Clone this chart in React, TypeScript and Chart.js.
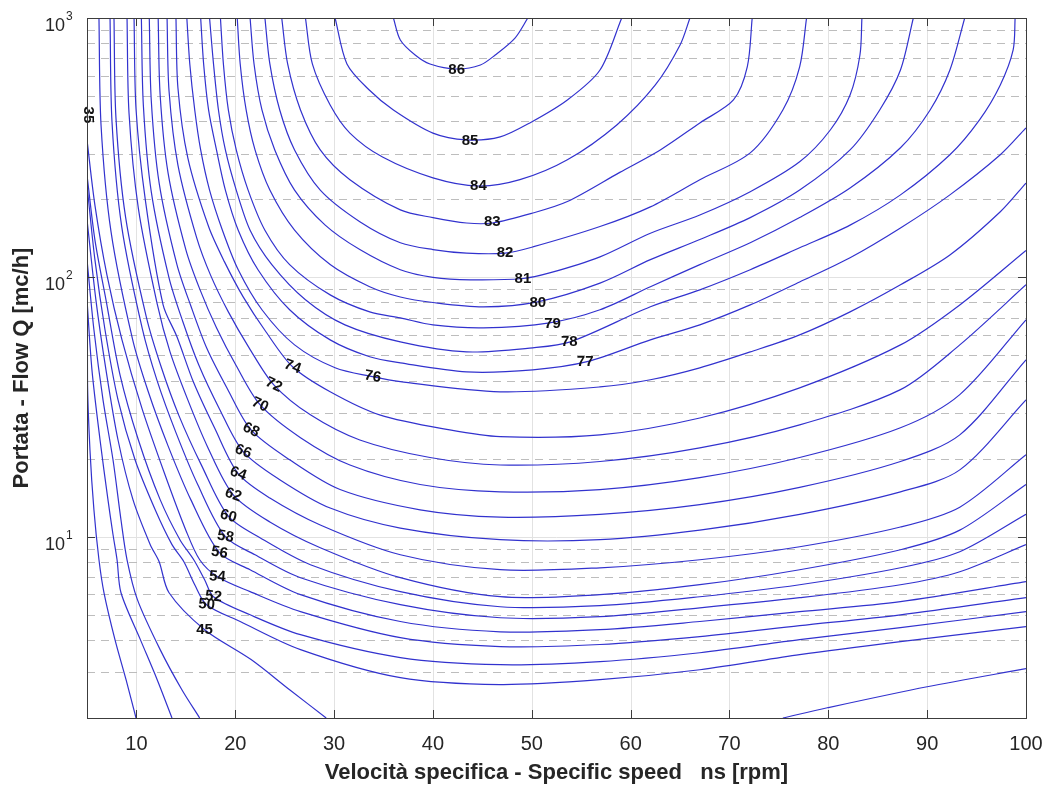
import React, { useEffect, useRef } from 'react';
import { Chart, registerables } from 'chart.js';

Chart.register(...registerables);

// ---- axis data ----
const xTickValues = [10, 20, 30, 40, 50, 60, 70, 80, 90, 100];
const yDecades = [10, 100, 1000];
const yDecadeExp = ['1', '2', '3'];
const yMinor = [2, 3, 4, 5, 6, 7, 8, 9, 20, 30, 40, 50, 60, 70, 80, 90, 200, 300, 400, 500, 600, 700, 800, 900];
const xTitle = 'Velocità specifica - Specific speed   ns [rpm]';
const yTitle = 'Portata - Flow Q [mc/h]';

// ---- contour lines: [ns, Q] ----
const c35 = [[5.04,1000],[5.04,260],[5.05,40.3],[5.3,21.6],[5.7,12.7],[6.21,8.15],[6.72,6.08],[7.83,4.01],[8.95,2.81],[9.96,2.0]];
const c40 = [[5.0,81.9],[5.5,44.0],[6.32,23.6],[7.12,13.9],[7.63,10.2],[8.04,8.15],[8.44,6.08],[10.4,4.01],[12.1,2.81],[13.6,2.0]];
const c42 = [[5.0,117],[5.7,62.8],[6.62,33.7],[7.63,19.8],[8.44,11.6],[9.05,8.15],[10.1,5.72],[12.4,3.67],[14.6,2.57],[16.4,2.0]];
const c45a = [[5.0,167],[5.9,81.9],[6.92,44.0],[8.14,23.6],[9.65,13.9],[11.4,9.32],[12.3,8.01],[13.3,6.08],[16.9,4.38],[21.6,3.36],[25.5,2.57],[29.2,2.0]];
const c45b = [[75.4,2.0],[79.9,2.19],[90.0,2.64],[100,3.10]];
const c50 = [[5.0,227],[5.8,117],[6.82,62.8],[8.14,33.7],[9.86,19.8],[11.9,12.7],[13.6,9.32],[14.8,8.01],[15.9,6.53],[17.1,5.47],[20.5,4.71],[26.6,3.67],[36.7,2.86],[46.8,2.69],[56.9,2.81],[67.0,3.07],[77.1,3.51],[87.3,3.94],[100,4.50]];
const c52 = [[5.0,248],[5.8,139.5],[6.92,81.9],[8.34,42.1],[10.2,23.6],[12.4,13.9],[14.4,9.74],[15.8,8.15],[16.9,6.83],[17.8,5.87],[21.5,5.00],[26.6,4.19],[36.7,3.42],[46.8,3.21],[56.9,3.30],[67.0,3.57],[77.1,4.01],[87.3,4.46],[100,5.14]];
const c54 = [[5.0,339],[5.8,190],[7.02,102],[8.54,57.4],[10.6,30.9],[12.9,17.3],[15.0,10.6],[16.4,8.15],[18.2,7.01],[21.5,6.14],[26.6,5.14],[36.7,4.08],[46.8,3.77],[56.9,3.84],[67.0,4.12],[77.1,4.54],[87.3,5.00],[100,5.82]];
const c56 = [[6.21,1000],[6.42,387],[7.43,150],[9.6,57.9],[11.2,36.2],[13.2,22.4],[15.5,13.9],[18.4,8.68],[21.5,7.46],[26.6,5.98],[36.7,4.71],[46.8,4.30],[56.9,4.38],[67.0,4.71],[77.1,5.14],[87.3,5.62],[100,6.71]];
const c58 = [[7.33,1000],[7.53,397],[8.5,158],[10.6,63.3],[12.1,39.9],[14.0,25.2],[16.2,15.9],[19.0,10.0],[22.0,8.52],[26.6,6.95],[36.7,5.47],[46.8,4.87],[56.9,4.92],[67.0,5.32],[77.1,5.82],[87.3,6.53],[93.3,7.33],[100,9.32]];
const c60 = [[7.73,1000],[7.93,412],[8.9,171],[11.0,70.4],[12.5,45.2],[14.3,29.3],[16.6,18.8],[19.3,12.0],[22.5,9.91],[27.6,7.80],[36.7,6.14],[46.8,5.37],[56.9,5.42],[67.0,5.87],[77.1,6.53],[87.3,7.59],[93.3,8.75],[100,12.2]];
const c62 = [[9.05,1000],[9.25,430],[10.2,184],[12.1,79.1],[13.4,51.6],[15.2,33.7],[17.2,22.2],[19.8,14.5],[23.5,11.4],[28.6,9.07],[36.7,6.95],[46.8,5.87],[56.9,5.98],[67.0,6.53],[77.1,7.46],[87.3,8.91],[93.3,10.6],[100,15.9]];
const c64 = [[9.76,1000],[9.96,446],[10.9,199],[12.7,78.4],[14.1,59.0],[15.8,39.2],[17.9,26.3],[20.3,17.5],[23.5,14.1],[28.6,11.1],[36.7,8.52],[46.8,7.46],[56.9,7.59],[67.0,8.15],[77.1,9.15],[87.3,10.9],[93.3,13.0],[100,20.7]];
const c66 = [[10.5,1000],[10.7,462],[11.5,214],[13.3,99.6],[14.7,67.4],[16.3,46.0],[18.4,31.1],[20.8,21.3],[24.5,16.6],[29.6,12.9],[36.7,10.8],[46.8,9.74],[56.9,9.74],[67.0,10.6],[77.1,12.2],[87.3,14.9],[93.3,18.1],[100,33.7]];
const c68 = [[11.3,1000],[11.5,483],[12.3,231],[14.1,112],[15.5,77.7],[17.1,53.5],[19.2,37.2],[21.6,25.8],[25.5,19.8],[30.6,15.2],[38.7,12.7],[46.8,11.9],[56.9,12.2],[67.0,13.3],[77.1,15.5],[87.3,19.5],[93.3,24.7],[100,48.1]];
const c70 = [[12.2,1000],[12.4,505],[13.2,253],[15.0,128],[16.4,90.3],[18.1,63.9],[20.1,45.6],[22.5,32.3],[26.6,24.1],[31.6,18.9],[38.7,15.9],[46.8,14.9],[56.9,15.2],[67.0,16.9],[77.1,20.2],[87.3,26.3],[93.3,35.3],[100,68.6]];
const c72 = [[13.1,1000],[13.3,523],[14.2,271],[16.1,142],[17.5,102],[19.3,73.6],[21.4,53.5],[23.9,38.5],[27.6,29.5],[32.6,23.6],[39.7,20.2],[46.8,18.9],[56.9,19.5],[67.0,22.0],[77.1,27.0],[87.3,36.9],[93.3,54.9],[100,93.6]];
const c74 = [[14.0,1000],[14.2,537],[15.2,289],[17.3,157],[18.9,115],[20.8,84.1],[23.1,61.7],[25.8,45.2],[29.6,36.2],[34.6,29.5],[41.7,25.8],[46.8,24.3],[56.9,24.7],[67.0,28.7],[77.1,37.5],[87.3,54.9],[93.3,78.3],[100,127]];
const c76 = [[15.1,1000],[15.4,665],[15.9,442],[16.5,310],[17.4,217],[18.7,152],[20.3,107],[22.7,75],[26.0,54.9],[30.1,44.8],[33.9,41.4],[36.7,39.6],[46.8,36.2],[56.9,37.8],[62.0,40.3],[67.0,44.8],[72.1,51.6],[77.1,60],[82.2,73.6],[87.3,93.6],[92.3,122],[97.4,179],[100,231]];
const c77 = [[16.5,1000],[16.8,665],[17.3,442],[18.1,310],[19.0,217],[20.3,152],[22.3,107],[25.5,75],[29.6,57.4],[33.6,49.4],[36.7,46.8],[43.4,43.2],[50.1,44.0],[55.6,47.3],[62.0,57.4],[67.0,65.6],[72.1,78.3],[77.1,96],[82.2,119],[87.3,155],[92.3,208],[97.4,297],[100,377]];
const c78 = [[17.4,1000],[17.8,665],[18.3,442],[19.0,310],[20.1,217],[21.5,152],[23.7,112],[27.1,82],[31.1,65.6],[36.7,56.4],[43.4,51.6],[50.1,53.5],[53.9,56.4],[62.0,77],[67.0,89.5],[72.1,107],[77.1,130],[82.2,159],[87.3,208],[92.3,297],[95.3,405],[97.4,552],[98.7,753],[98.9,1000]];
const c79 = [[18.5,1000],[18.8,665],[19.3,442],[20.1,310],[21.3,217],[23.0,152],[25.5,112],[29.6,85.6],[33.6,73.6],[36.7,69.8],[40.0,65.6],[45.1,63.9],[51.8,66.8],[56.9,75],[62.0,92],[67.0,112],[72.1,136],[77.1,170],[82.2,221],[87.3,316],[90.3,442],[92.3,630],[93.8,1000]];
const c80 = [[20.2,1000],[20.5,665],[21.1,442],[22.0,310],[23.5,217],[26.0,152],[29.6,112],[33.6,92],[36.7,84],[40.0,80],[45.1,77],[50.6,80.5],[56.9,95],[62.0,117],[67.0,140],[72.1,170],[77.1,217],[82.2,310],[85.2,442],[87.3,630],[88.6,1000]];
const c81 = [[21.5,1000],[21.9,665],[22.7,442],[24.0,310],[26.0,217],[29.1,159],[32.6,128],[36.7,107],[40.0,100],[43.8,97.8],[49.1,99],[51.8,104],[56.9,120],[62.0,148],[67.0,174],[72.1,214],[77.1,279],[80.2,370],[82.2,505],[83.2,720],[83.4,1000]];
const c82 = [[23.0,1000],[23.5,665],[24.5,442],[26.0,310],[28.6,217],[32.6,164],[36.7,136],[40.0,128],[43.4,124],[47.3,124],[50.1,131],[56.9,157],[62.0,187],[67.0,238],[72.1,302],[75.4,442],[77.1,648],[77.8,1000]];
const c83 = [[24.7,1000],[25.3,665],[26.6,442],[28.6,310],[31.6,238],[36.7,182],[40.0,170],[43.4,162],[46.0,162],[50.1,177],[53.6,196],[58.9,254],[63.0,310],[67.0,394],[70.4,483],[71.8,648],[72.3,1000]];
const c84 = [[27.1,1000],[27.8,665],[29.6,462],[31.6,360],[34.9,291],[40.0,242],[44.6,225],[48.8,238],[53.6,284],[58.6,387],[62.5,552],[65.0,787],[66.0,1000]];
const c85 = [[30.1,1000],[31.3,665],[33.5,530],[36.0,442],[40.0,360],[43.4,339],[46.8,348],[49.8,394],[53.6,483],[56.9,630],[59.1,1000]];
const c86 = [[36.0,1000],[36.7,823],[38.2,720],[39.7,665],[42.4,636],[44.8,659],[46.3,720],[48.3,837],[49.6,1000]];

const contourLines = [c35, c40, c42, c45a, c45b, c50, c52, c54, c56, c58, c60, c62, c64, c66, c68, c70, c72, c74, c76, c77, c78, c79, c80, c81, c82, c83, c84, c85, c86];

// ---- contour labels ----
const labelText = ['86','85','84','83','82','81','80','79','78','77','76','74','72','70','68','66','64','62','60','58','56','54','52','50','45','35'];
const labelNs = [42.4, 43.75, 44.6, 46.0, 47.3, 49.1, 50.6, 52.1, 53.8, 55.4, 33.9, 25.8, 23.9, 22.5, 21.6, 20.8, 20.3, 19.8, 19.3, 19.0, 18.4, 18.2, 17.8, 17.1, 16.9, 5.1];
const labelQ = [630, 336, 225, 164, 124, 99, 80, 66, 56.4, 47.3, 41.4, 45.2, 38.5, 32.3, 25.8, 21.3, 17.5, 14.5, 12.0, 10.0, 8.68, 7.01, 5.87, 5.47, 4.38, 423];
const labelRot = [0, 0, 0, 0, 0, 0, 0, 0, 0, 0, 10, 20, 25, 25, 25, 20, 20, 20, 15, 10, 10, 5, 5, 5, 0, 90];

const LINE_COLOR = 'rgb(50,50,206)';
const FONT = '"Liberation Sans", Arial, Helvetica, sans-serif';

const decorPlugin = {
  id: 'decor',
  beforeDatasetsDraw(chart: any) {
    const { ctx, chartArea, scales } = chart;
    const { left, right, top, bottom } = chartArea;
    const x = scales.x, y = scales.y;
    ctx.save();
    ctx.lineWidth = 1;
    ctx.strokeStyle = '#e2e2e2';
    xTickValues.forEach((v) => {
      if (v >= 100) return;
      const px = Math.round(x.getPixelForValue(v)) + 0.5;
      ctx.beginPath(); ctx.moveTo(px, top); ctx.lineTo(px, bottom); ctx.stroke();
    });
    ctx.strokeStyle = '#bdbdbd';
    ctx.setLineDash([8, 6]);
    yMinor.forEach((v) => {
      const py = Math.round(y.getPixelForValue(v)) + 0.5;
      if (py < top || py > bottom) return;
      ctx.beginPath(); ctx.moveTo(left, py); ctx.lineTo(right, py); ctx.stroke();
    });
    ctx.setLineDash([]);
    ctx.strokeStyle = '#e2e2e2';
    yDecades.forEach((v) => {
      if (v >= 1000) return;
      const py = Math.round(y.getPixelForValue(v)) + 0.5;
      ctx.beginPath(); ctx.moveTo(left, py); ctx.lineTo(right, py); ctx.stroke();
    });
    ctx.restore();
  },
  afterDatasetsDraw(chart: any) {
    const { ctx, chartArea, scales } = chart;
    const { left, right, top, bottom } = chartArea;
    const x = scales.x, y = scales.y;
    ctx.save();
    ctx.fillStyle = '#111111';
    ctx.font = `bold 15px ${FONT}`;
    ctx.textAlign = 'center';
    ctx.textBaseline = 'middle';
    labelText.forEach((t, i) => {
      const px = x.getPixelForValue(labelNs[i]);
      const py = y.getPixelForValue(labelQ[i]);
      ctx.save();
      ctx.translate(px, py);
      ctx.rotate((labelRot[i] * Math.PI) / 180);
      ctx.fillText(t, 0, 0);
      ctx.restore();
    });
    ctx.strokeStyle = '#3c3c3c';
    ctx.lineWidth = 1;
    ctx.strokeRect(Math.round(left) + 0.5, Math.round(top) + 0.5, Math.round(right - left), Math.round(bottom - top));
    ctx.beginPath();
    xTickValues.forEach((v) => {
      const px = Math.round(x.getPixelForValue(v)) + 0.5;
      ctx.moveTo(px, bottom); ctx.lineTo(px, bottom - 8);
      ctx.moveTo(px, top); ctx.lineTo(px, top + 8);
    });
    yDecades.forEach((v) => {
      const py = Math.round(y.getPixelForValue(v)) + 0.5;
      ctx.moveTo(left, py); ctx.lineTo(left + 8, py);
      ctx.moveTo(right, py); ctx.lineTo(right - 8, py);
    });
    ctx.stroke();
    ctx.fillStyle = '#262626';
    ctx.font = `20px ${FONT}`;
    ctx.textAlign = 'center';
    ctx.textBaseline = 'middle';
    xTickValues.forEach((v) => {
      ctx.fillText(String(v), x.getPixelForValue(v), bottom + 26);
    });
    ctx.textBaseline = 'alphabetic';
    yDecades.forEach((v, i) => {
      const py = y.getPixelForValue(v);
      ctx.font = `18px ${FONT}`;
      ctx.textAlign = 'right';
      ctx.fillText('10', left - 22, py + 13);
      ctx.font = `12px ${FONT}`;
      ctx.textAlign = 'left';
      ctx.fillText(yDecadeExp[i], left - 21, py + 2);
    });
    ctx.fillStyle = '#262626';
    ctx.font = `bold 22px ${FONT}`;
    ctx.textAlign = 'center';
    ctx.textBaseline = 'middle';
    ctx.fillText(xTitle, (left + right) / 2, bottom + 55);
    ctx.save();
    ctx.translate(22, (top + bottom) / 2);
    ctx.rotate(-Math.PI / 2);
    ctx.fillText(yTitle, 0, 0);
    ctx.restore();
    ctx.restore();
  },
};

export default function App() {
  const ref = useRef<HTMLCanvasElement | null>(null);
  useEffect(() => {
    document.body.style.margin = '0';
    const canvas = ref.current;
    if (!canvas) return;
    const chart = new Chart(canvas, {
      type: 'line',
      data: {
        datasets: contourLines.map((pts) => ({
          data: pts.map(([a, b]) => ({ x: a, y: b })),
          borderColor: LINE_COLOR,
          borderWidth: 1.2,
          pointRadius: 0,
          fill: false,
          tension: 0.3,
        })),
      },
      options: {
        animation: false,
        responsive: false,
        devicePixelRatio: 1,
        layout: { padding: { top: 18, right: 19, left: 0, bottom: 0 } },
        elements: { line: { capBezierPoints: false } },
        plugins: { legend: { display: false }, tooltip: { enabled: false }, title: { display: false } },
        scales: {
          x: {
            type: 'linear', min: 5, max: 100,
            grid: { display: false }, border: { display: false },
            ticks: { display: false },
            afterFit: (s: any) => { s.height = 67; },
          },
          y: {
            type: 'logarithmic', min: 2, max: 1000,
            grid: { display: false }, border: { display: false },
            ticks: { display: false },
            afterFit: (s: any) => { s.width = 87; },
          },
        },
      },
      plugins: [decorPlugin],
    } as any);
    return () => chart.destroy();
  }, []);
  return (
    <div style={{ width: 1045, height: 785, background: '#fff' }}>
      <canvas ref={ref} width={1045} height={785} style={{ display: 'block' }} />
    </div>
  );
}
